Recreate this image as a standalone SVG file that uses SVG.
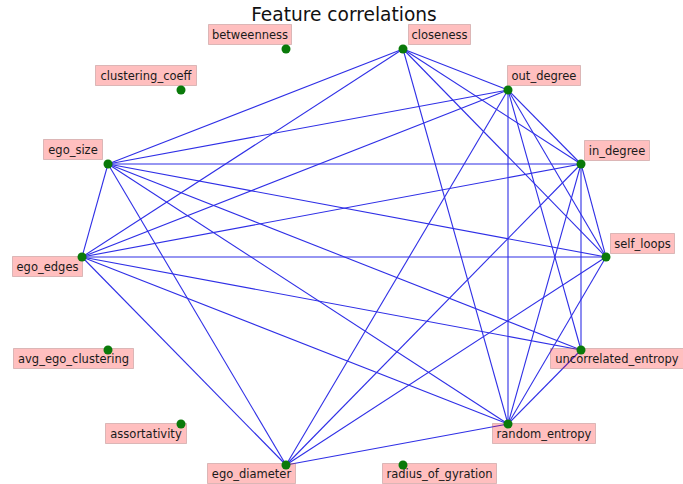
<svg xmlns="http://www.w3.org/2000/svg" width="683" height="484" viewBox="0 0 683 484">
  <style>
    .title { font-family: "DejaVu Sans", "Liberation Sans", sans-serif; font-size: 18.6px; fill: #111; text-anchor: middle; }
    .edge { stroke: #2f2fe6; stroke-width: 1.1; fill: none; }
    .box { fill: #ff0000; fill-opacity: 0.25; stroke: #8a5a5a; stroke-opacity: 0.3; stroke-width: 1; }
    .lbl { font-family: "DejaVu Sans", "Liberation Sans", sans-serif; font-size: 11.5px; fill: #1a1a1a; text-anchor: middle; }
    .dot { fill: #0a7a0a; }
  </style>
  <rect width="683" height="484" fill="#ffffff"/>
  <text class="title" x="344" y="21">Feature correlations</text>

  <!-- correlation edges -->
  <g id="edges">
    <!-- closeness -->
    <line class="edge" x1="403" y1="49" x2="108" y2="164"/>
    <line class="edge" x1="403" y1="49" x2="82" y2="257"/>
    <line class="edge" x1="403" y1="49" x2="508" y2="90"/>
    <line class="edge" x1="403" y1="49" x2="581" y2="164"/>
    <line class="edge" x1="403" y1="49" x2="606" y2="257"/>
    <line class="edge" x1="403" y1="49" x2="508" y2="424"/>
    <!-- out_degree -->
    <line class="edge" x1="508" y1="90" x2="108" y2="164"/>
    <line class="edge" x1="508" y1="90" x2="82" y2="257"/>
    <line class="edge" x1="508" y1="90" x2="581" y2="164"/>
    <line class="edge" x1="508" y1="90" x2="606" y2="257"/>
    <line class="edge" x1="508" y1="90" x2="581" y2="350"/>
    <line class="edge" x1="508" y1="90" x2="508" y2="424"/>
    <line class="edge" x1="508" y1="90" x2="286" y2="465"/>
    <!-- ego_size -->
    <line class="edge" x1="108" y1="164" x2="82" y2="257"/>
    <line class="edge" x1="108" y1="164" x2="581" y2="164"/>
    <line class="edge" x1="108" y1="164" x2="606" y2="257"/>
    <line class="edge" x1="108" y1="164" x2="581" y2="350"/>
    <line class="edge" x1="108" y1="164" x2="508" y2="424"/>
    <line class="edge" x1="108" y1="164" x2="286" y2="465"/>
    <!-- in_degree -->
    <line class="edge" x1="581" y1="164" x2="82" y2="257"/>
    <line class="edge" x1="581" y1="164" x2="606" y2="257"/>
    <line class="edge" x1="581" y1="164" x2="581" y2="350"/>
    <line class="edge" x1="581" y1="164" x2="508" y2="424"/>
    <line class="edge" x1="581" y1="164" x2="286" y2="465"/>
    <!-- ego_edges -->
    <line class="edge" x1="82" y1="257" x2="606" y2="257"/>
    <line class="edge" x1="82" y1="257" x2="581" y2="350"/>
    <line class="edge" x1="82" y1="257" x2="508" y2="424"/>
    <line class="edge" x1="82" y1="257" x2="286" y2="465"/>
    <!-- self_loops -->
    <line class="edge" x1="606" y1="257" x2="508" y2="424"/>
    <line class="edge" x1="606" y1="257" x2="286" y2="465"/>
    <!-- entropies and diameter -->
    <line class="edge" x1="581" y1="350" x2="508" y2="424"/>
    <line class="edge" x1="508" y1="424" x2="286" y2="465"/>
  </g>

  <g id="betweenness">
    <rect class="box" x="208.5" y="24.5" width="83" height="20"/>
    <text class="lbl" x="250" y="38.5">betweenness</text>
    <circle class="dot" cx="286" cy="49" r="4.5"/>
  </g>
  <g id="closeness">
    <rect class="box" x="408.5" y="24.5" width="62" height="20"/>
    <text class="lbl" x="439.5" y="38.5">closeness</text>
    <circle class="dot" cx="403" cy="49" r="4.5"/>
  </g>
  <g id="clustering_coeff">
    <rect class="box" x="95.5" y="65.5" width="101" height="20"/>
    <text class="lbl" x="146" y="79.5">clustering_coeff</text>
    <circle class="dot" cx="181" cy="90" r="4.5"/>
  </g>
  <g id="out_degree">
    <rect class="box" x="507.5" y="65.5" width="73" height="20"/>
    <text class="lbl" x="544" y="79.5">out_degree</text>
    <circle class="dot" cx="508" cy="90" r="4.5"/>
  </g>
  <g id="ego_size">
    <rect class="box" x="43.5" y="139.5" width="59" height="20"/>
    <text class="lbl" x="73" y="153.5">ego_size</text>
    <circle class="dot" cx="108" cy="164" r="4.5"/>
  </g>
  <g id="in_degree">
    <rect class="box" x="584.5" y="140.5" width="65" height="20"/>
    <text class="lbl" x="617" y="154.5">in_degree</text>
    <circle class="dot" cx="581" cy="164" r="4.5"/>
  </g>
  <g id="ego_edges">
    <rect class="box" x="12.5" y="256.5" width="70" height="20"/>
    <text class="lbl" x="47.5" y="270.5">ego_edges</text>
    <circle class="dot" cx="82" cy="257" r="4.5"/>
  </g>
  <g id="self_loops">
    <rect class="box" x="610.5" y="233.5" width="64" height="20"/>
    <text class="lbl" x="642.5" y="247.5">self_loops</text>
    <circle class="dot" cx="606" cy="257" r="4.5"/>
  </g>
  <g id="avg_ego_clustering">
    <rect class="box" x="13.5" y="348.5" width="120" height="20"/>
    <text class="lbl" x="73.5" y="362.5">avg_ego_clustering</text>
    <circle class="dot" cx="108" cy="350" r="4.5"/>
  </g>
  <g id="uncorrelated_entropy">
    <rect class="box" x="550.5" y="348.5" width="133" height="20"/>
    <text class="lbl" x="617" y="362.5">uncorrelated_entropy</text>
    <circle class="dot" cx="581" cy="350" r="4.5"/>
  </g>
  <g id="assortativity">
    <rect class="box" x="105.5" y="423.5" width="81" height="20"/>
    <text class="lbl" x="146" y="437.5">assortativity</text>
    <circle class="dot" cx="181" cy="424" r="4.5"/>
  </g>
  <g id="random_entropy">
    <rect class="box" x="492.5" y="423.5" width="103" height="20"/>
    <text class="lbl" x="544" y="437.5">random_entropy</text>
    <circle class="dot" cx="508" cy="424" r="4.5"/>
  </g>
  <g id="ego_diameter">
    <rect class="box" x="207.5" y="463.5" width="88" height="20"/>
    <text class="lbl" x="251.5" y="477.5">ego_diameter</text>
    <circle class="dot" cx="286" cy="465" r="4.5"/>
  </g>
  <g id="radius_of_gyration">
    <rect class="box" x="382.5" y="463.5" width="114" height="20"/>
    <text class="lbl" x="439.5" y="477.5">radius_of_gyration</text>
    <circle class="dot" cx="403" cy="465" r="4.5"/>
  </g>
</svg>
